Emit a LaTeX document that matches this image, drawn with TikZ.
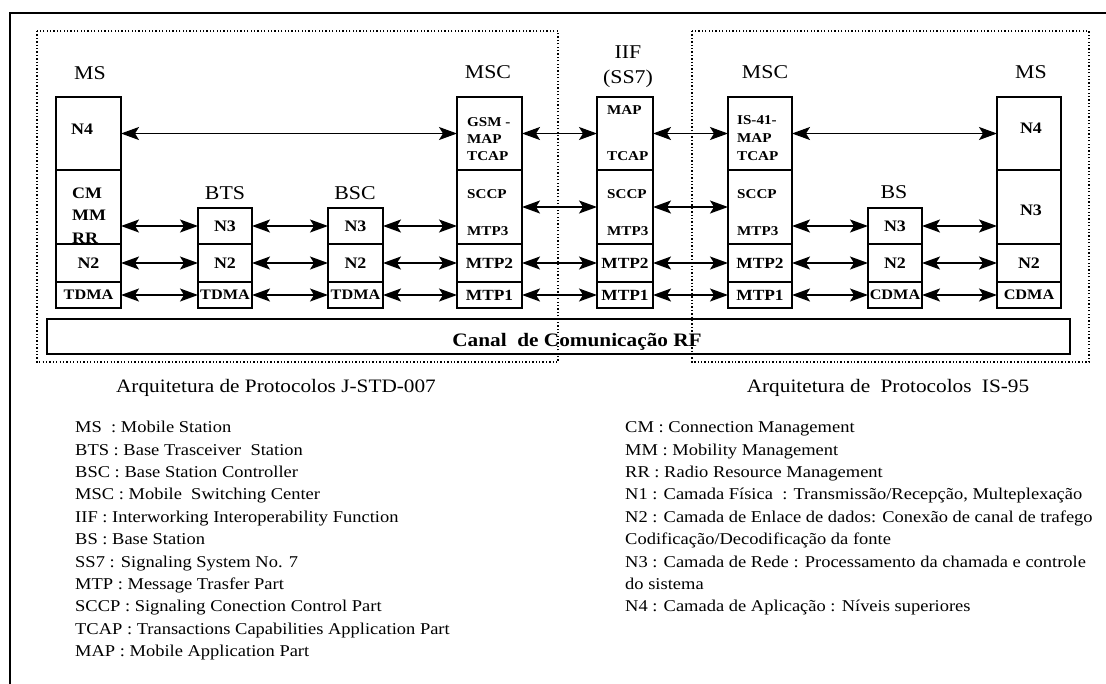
\documentclass[tikz,border=0pt]{standalone}
\usepackage{fontspec}
\setmainfont{Liberation Serif}[FakeStretch=1.12]
\usetikzlibrary{arrows.meta,calc}
\begin{document}
\begin{tikzpicture}[x=1pt,y=-1pt,
  sec/.style={draw, line width=1.6pt, inner sep=0, outer sep=0, anchor=north west},
  dbl/.style={{Stealth[length=18pt,width=13pt,inset=4pt]}-{Stealth[length=18pt,width=13pt,inset=4pt]}, line width=1.4pt},
  hd/.style={font=\fontsize{19.5}{22}\selectfont, inner sep=0, anchor=base},
  lbl/.style={font=\bfseries\fontsize{16}{20}\selectfont},
  lblt/.style={font=\bfseries\fontsize{16}{20}\selectfont, inner sep=0, anchor=base west},
  sml/.style={font=\bfseries\fontsize{13.5}{15}\selectfont, inner sep=0, anchor=base west},
  mtp/.style={font=\bfseries\fontsize{15.5}{17}\selectfont},
  phy/.style={font=\bfseries\fontsize{14.5}{16}\selectfont},
  leg/.style={font=\fontsize{16.5}{20}\selectfont, inner sep=0, anchor=base west},
  ttl/.style={font=\fontsize{19}{22}\selectfont, inner sep=0, anchor=base},
  dots/.style={line width=1.7pt, dash pattern=on 1.3pt off 2.1pt},
]
\useasboundingbox (0,0) rectangle (1106,683);
\fill[white] (0,0) rectangle (1106,683);
% outer frame
\draw[line width=1.7pt] (1115,13) -- (10,13) -- (10,695);

% RF channel bar
\node[draw, line width=2.3pt, inner sep=0, outer sep=0, anchor=north west,
      minimum width=1023, minimum height=35] (bar) at (47,319) {};
\node[font=\bfseries\fontsize{19}{22}\selectfont, inner sep=0, anchor=base] (canal) at (577,346) {Canal\ \ de Comunicação RF};

% dotted enclosures
\draw[dots] (37,31) rectangle (558,362);
\draw[dots] (692,31) rectangle (1089,362);

% headings
\node[hd] (hmsl) at (90,79) {MS};
\node[hd] (hbts) at (225,199) {BTS};
\node[hd] (hbsc) at (355,199) {BSC};
\node[hd] (hmscl) at (488,78) {MSC};
\node[hd] (hiif1) at (628,58) {IIF};
\node[hd] (hiif2) at (628,83) {(SS7)};
\node[hd] (hmscr) at (765,78) {MSC};
\node[hd] (hbs) at (894,198) {BS};
\node[hd] (hmsr) at (1031,78) {MS};

% MS left
\node[sec, minimum width=65, minimum height=73] (msl1) at (56,97) {};
\node[sec, minimum width=65, minimum height=74] (msl2) at (56,170) {};
\node[sec, lbl, minimum width=65, minimum height=38] (msl3) at (56,244) {N2};
\node[sec, phy, minimum width=65, minimum height=26] (msl4) at (56,282) {TDMA};
\node[lblt] (tmsl1) at (71,134) {N4};
\node[lblt] (tmsl2) at (72,198) {CM};
\node[lblt] (tmsl3) at (72,220.5) {MM};
\node[lblt] (tmsl4) at (72,243) {RR};

% BTS
\node[sec, lbl, minimum width=54, minimum height=36] (bts1) at (198,208) {N3};
\node[sec, lbl, minimum width=54, minimum height=38] (bts2) at (198,244) {N2};
\node[sec, phy, minimum width=54, minimum height=26] (bts3) at (198,282) {TDMA};

% BSC
\node[sec, lbl, minimum width=55, minimum height=36] (bsc1) at (328,208) {N3};
\node[sec, lbl, minimum width=55, minimum height=38] (bsc2) at (328,244) {N2};
\node[sec, phy, minimum width=55, minimum height=26] (bsc3) at (328,282) {TDMA};

% MSC left
\node[sec, minimum width=65, minimum height=73] (mscl1) at (457,97) {};
\node[sec, minimum width=65, minimum height=74] (mscl2) at (457,170) {};
\node[sec, mtp, minimum width=65, minimum height=38] (mscl3) at (457,244) {MTP2};
\node[sec, mtp, minimum width=65, minimum height=26] (mscl4) at (457,282) {MTP1};
\node[sml] (tmscl1) at (467,126) {GSM -};
\node[sml] (tmscl2) at (467,143) {MAP};
\node[sml] (tmscl3) at (467,160) {TCAP};
\node[sml] (tmscl4) at (467,198) {SCCP};
\node[sml] (tmscl5) at (467,235) {MTP3};

% IIF
\node[sec, minimum width=56, minimum height=73] (iif1) at (597,97) {};
\node[sec, minimum width=56, minimum height=74] (iif2) at (597,170) {};
\node[sec, mtp, minimum width=56, minimum height=38] (iif3) at (597,244) {MTP2};
\node[sec, mtp, minimum width=56, minimum height=26] (iif4) at (597,282) {MTP1};
\node[sml] (tiif1) at (607,114) {MAP};
\node[sml] (tiif2) at (607,160) {TCAP};
\node[sml] (tiif3) at (607,198) {SCCP};
\node[sml] (tiif4) at (607,235) {MTP3};

% MSC right
\node[sec, minimum width=64, minimum height=73] (mscr1) at (728,97) {};
\node[sec, minimum width=64, minimum height=74] (mscr2) at (728,170) {};
\node[sec, mtp, minimum width=64, minimum height=38] (mscr3) at (728,244) {MTP2};
\node[sec, mtp, minimum width=64, minimum height=26] (mscr4) at (728,282) {MTP1};
\node[sml] (tmscr1) at (737,124) {IS-41-};
\node[sml] (tmscr2) at (737,142) {MAP};
\node[sml] (tmscr3) at (737,160) {TCAP};
\node[sml] (tmscr4) at (737,198) {SCCP};
\node[sml] (tmscr5) at (737,235) {MTP3};

% BS
\node[sec, lbl, minimum width=54, minimum height=36] (bsx1) at (868,208) {N3};
\node[sec, lbl, minimum width=54, minimum height=38] (bsx2) at (868,244) {N2};
\node[sec, phy, minimum width=54, minimum height=26] (bsx3) at (868,282) {CDMA};

% MS right
\node[sec, minimum width=64, minimum height=73] (msr1) at (997,97) {};
\node[sec, minimum width=64, minimum height=74] (msr2) at (997,170) {};
\node[sec, lbl, minimum width=64, minimum height=38] (msr3) at (997,244) {N2};
\node[sec, phy, minimum width=64, minimum height=26] (msr4) at (997,282) {CDMA};
\node[lblt, anchor=base] (tmsr1) at (1031,133) {N4};
\node[lblt, anchor=base] (tmsr2) at (1031,215) {N3};

% connectors: application level
\draw[dbl] (msl1.east) -- (mscl1.west);
\draw[dbl] (mscl1.east) -- (iif1.west);
\draw[dbl] (iif1.east) -- (mscr1.west);
\draw[dbl] (mscr1.east) -- (msr1.west);
% SCCP level
\draw[dbl] (mscl2.east) -- (iif2.west);
\draw[dbl] (iif2.east) -- (mscr2.west);
% N3 level
\draw[dbl] (msl2.east |- bts1.west) -- (bts1.west);
\draw[dbl] (bts1.east) -- (bsc1.west);
\draw[dbl] (bsc1.east) -- (mscl2.west |- bsc1.east);
\draw[dbl] (mscr2.east |- bsx1.west) -- (bsx1.west);
\draw[dbl] (bsx1.east) -- (msr2.west |- bsx1.east);
% N2 level
\draw[dbl] (msl3.east) -- (bts2.west);
\draw[dbl] (bts2.east) -- (bsc2.west);
\draw[dbl] (bsc2.east) -- (mscl3.west);
\draw[dbl] (mscl3.east) -- (iif3.west);
\draw[dbl] (iif3.east) -- (mscr3.west);
\draw[dbl] (mscr3.east) -- (bsx2.west);
\draw[dbl] (bsx2.east) -- (msr3.west);
% physical level
\draw[dbl] (msl4.east) -- (bts3.west);
\draw[dbl] (bts3.east) -- (bsc3.west);
\draw[dbl] (bsc3.east) -- (mscl4.west);
\draw[dbl] (mscl4.east) -- (iif4.west);
\draw[dbl] (iif4.east) -- (mscr4.west);
\draw[dbl] (mscr4.east) -- (bsx3.west);
\draw[dbl] (bsx3.east) -- (msr4.west);

% titles
\node[ttl] (ttll) at (276,392) {Arquitetura de Protocolos J-STD-007};
\node[ttl] (ttlr) at (888,392) {Arquitetura de\hspace{5pt} Protocolos\hspace{5pt} IS-95};

% legends
\foreach \i/\t in {0/{MS\ \ : Mobile Station},
                   1/{BTS : Base Trasceiver\ \ Station},
                   2/{BSC : Base Station Controller},
                   3/{MSC : Mobile\ \ Switching Center},
                   4/{IIF : Interworking Interoperability Function},
                   5/{BS : Base Station},
                   6/{SS7 : Signaling System No. 7},
                   7/{MTP : Message Trasfer Part},
                   8/{SCCP : Signaling Conection Control Part},
                   9/{TCAP : Transactions Capabilities Application Part},
                   10/{MAP : Mobile Application Part}}
  \node[leg] (legl\i) at (75,{432.7+22.4*\i}) {\t};
\foreach \i/\t in {0/{CM : Connection Management},
                   1/{MM : Mobility Management},
                   2/{RR : Radio Resource Management},
                   3/{N1 : Camada Física\ \ : Transmissão/Recepção, Multeplexação},
                   4/{N2 : Camada de Enlace de dados: Conexão de canal de trafego},
                   5/{Codificação/Decodificação da fonte},
                   6/{N3 : Camada de Rede : Processamento da chamada e controle},
                   7/{do sistema},
                   8/{N4 : Camada de Aplicação : Níveis superiores}}
  \node[leg] (legr\i) at (625,{432.7+22.4*\i}) {\t};
\end{tikzpicture}
\end{document}
